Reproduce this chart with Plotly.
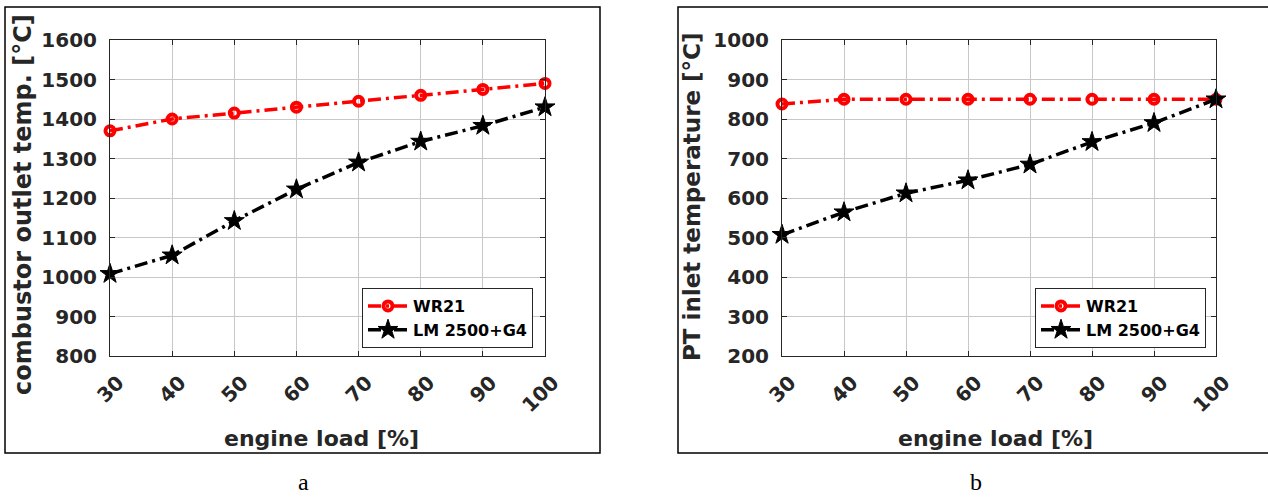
import plotly.graph_objects as go

# engine load [%]
loads = [30, 40, 50, 60, 70, 80, 90, 100]

# (a) combustor outlet temperature [°C]
comb_wr21 = [1370, 1400, 1415, 1430, 1445, 1460, 1475, 1490]
comb_lm2500 = [1008, 1055, 1142, 1222, 1290, 1343, 1383, 1430]

# (b) power turbine inlet temperature [°C]
pt_wr21 = [838, 850, 850, 850, 850, 850, 850, 850]
pt_lm2500 = [507, 564, 612, 645, 685, 742, 790, 850]

series_names = ["WR21", "LM 2500+G4"]
x_ticks = [30, 40, 50, 60, 70, 80, 90, 100]
ya_ticks = [800, 900, 1000, 1100, 1200, 1300, 1400, 1500, 1600]
yb_ticks = [200, 300, 400, 500, 600, 700, 800, 900, 1000]

W, H = 1268, 499
def px(x):
    return x / W
def py(y):
    return 1 - y / H

DASH = "13px,5px,3px,5px"
AX_COLOR = "#262626"
GRID = "#c8c8c8"
TICK_FONT = dict(family="DejaVu Sans", size=20, color=AX_COLOR, weight="bold")

fig = go.Figure()

def add_pair(xa, ya, wr, lm, legend_id):
    fig.add_trace(go.Scatter(
        x=loads, y=wr, name=series_names[0], mode="lines+markers",
        xaxis=xa, yaxis=ya, legend=legend_id, cliponaxis=False,
        line=dict(color="#ff0000", width=3.5, dash=DASH),
        marker=dict(symbol="circle-open", size=9, color="#ff0000",
                    line=dict(color="#ff0000", width=4)),
    ))
    fig.add_trace(go.Scatter(
        x=loads, y=lm, name=series_names[1], mode="lines+markers",
        xaxis=xa, yaxis=ya, legend=legend_id, cliponaxis=False,
        line=dict(color="#000000", width=3.5, dash=DASH),
        marker=dict(symbol="star", size=15, color="#000000",
                    line=dict(color="#000000", width=1)),
    ))

add_pair("x", "y", comb_wr21, comb_lm2500, "legend")
add_pair("x2", "y2", pt_wr21, pt_lm2500, "legend2")

y_dom = [py(356), py(40)]

def xaxis(dom, anchor):
    return dict(
        domain=dom, anchor=anchor, range=[30, 100], tickvals=x_ticks,
        ticktext=[str(v) for v in x_ticks], tickangle=-45,
        ticks="inside", ticklen=5, tickcolor=AX_COLOR,
        showline=True, linecolor=AX_COLOR, linewidth=1, mirror="ticks",
        showgrid=True, gridcolor=GRID, gridwidth=1, zeroline=False,
        tickfont=TICK_FONT, ticklabelstandoff=6, ticklabelshift=8,
        automargin=False,
    )

def yaxis(rng, tv, anchor):
    return dict(
        domain=y_dom, anchor=anchor, range=rng, tickvals=tv,
        ticks="inside", ticklen=5, tickcolor=AX_COLOR,
        showline=True, linecolor=AX_COLOR, linewidth=1, mirror="ticks",
        showgrid=True, gridcolor=GRID, gridwidth=1, zeroline=False,
        tickfont=TICK_FONT, ticklabelstandoff=8, automargin=False,
    )

legend_common = dict(
    font=dict(family="DejaVu Sans", size=16, color="#000000", weight="bold"),
    bgcolor="#ffffff", bordercolor=AX_COLOR, borderwidth=1,
    xanchor="right", yanchor="top", itemwidth=40,
    tracegroupgap=0,
)

fig.update_layout(
    width=W, height=H,
    margin=dict(l=0, r=0, t=0, b=0, autoexpand=False),
    paper_bgcolor="#ffffff", plot_bgcolor="#ffffff",
    xaxis=xaxis([px(110), px(545)], "y"),
    yaxis=yaxis([800, 1600], ya_ticks, "x"),
    xaxis2=xaxis([px(782), px(1216)], "y2"),
    yaxis2=yaxis([200, 1000], yb_ticks, "x2"),
    legend=dict(x=px(533), y=py(288), **legend_common),
    legend2=dict(x=px(1206), y=py(288), **legend_common),
    showlegend=True,
)

# panel frames
for x0, x1 in [(5, 600), (678, 1273)]:
    fig.add_shape(type="rect", xref="paper", yref="paper",
                  x0=px(x0), x1=px(x1), y0=py(453), y1=py(7),
                  line=dict(color="#000000", width=1.5), layer="below")

XT_FONT = dict(family="DejaVu Sans", size=22, color=AX_COLOR, weight="bold")
PANEL_FONT = dict(family="Liberation Serif", size=24, color="#000000")

annotations = [
    dict(text="combustor outlet temp. [°C]", x=px(23), y=py(205), textangle=-90,
         font=dict(family="DejaVu Sans", size=24, color=AX_COLOR, weight="bold")),
    dict(text="PT inlet temperature [°C]", x=px(692), y=py(197), textangle=-90,
         font=dict(family="DejaVu Sans", size=23, color=AX_COLOR, weight="bold")),
    dict(text="engine load [%]", x=px(322), y=py(438), font=XT_FONT),
    dict(text="engine load [%]", x=px(995), y=py(438), font=XT_FONT),
    dict(text="a", x=px(303), y=py(482), font=PANEL_FONT),
    dict(text="b", x=px(976), y=py(482), font=PANEL_FONT),
]
for a in annotations:
    fig.add_annotation(xref="paper", yref="paper", showarrow=False,
                       xanchor="center", yanchor="middle", **a)

fig.write_html("out.html")
